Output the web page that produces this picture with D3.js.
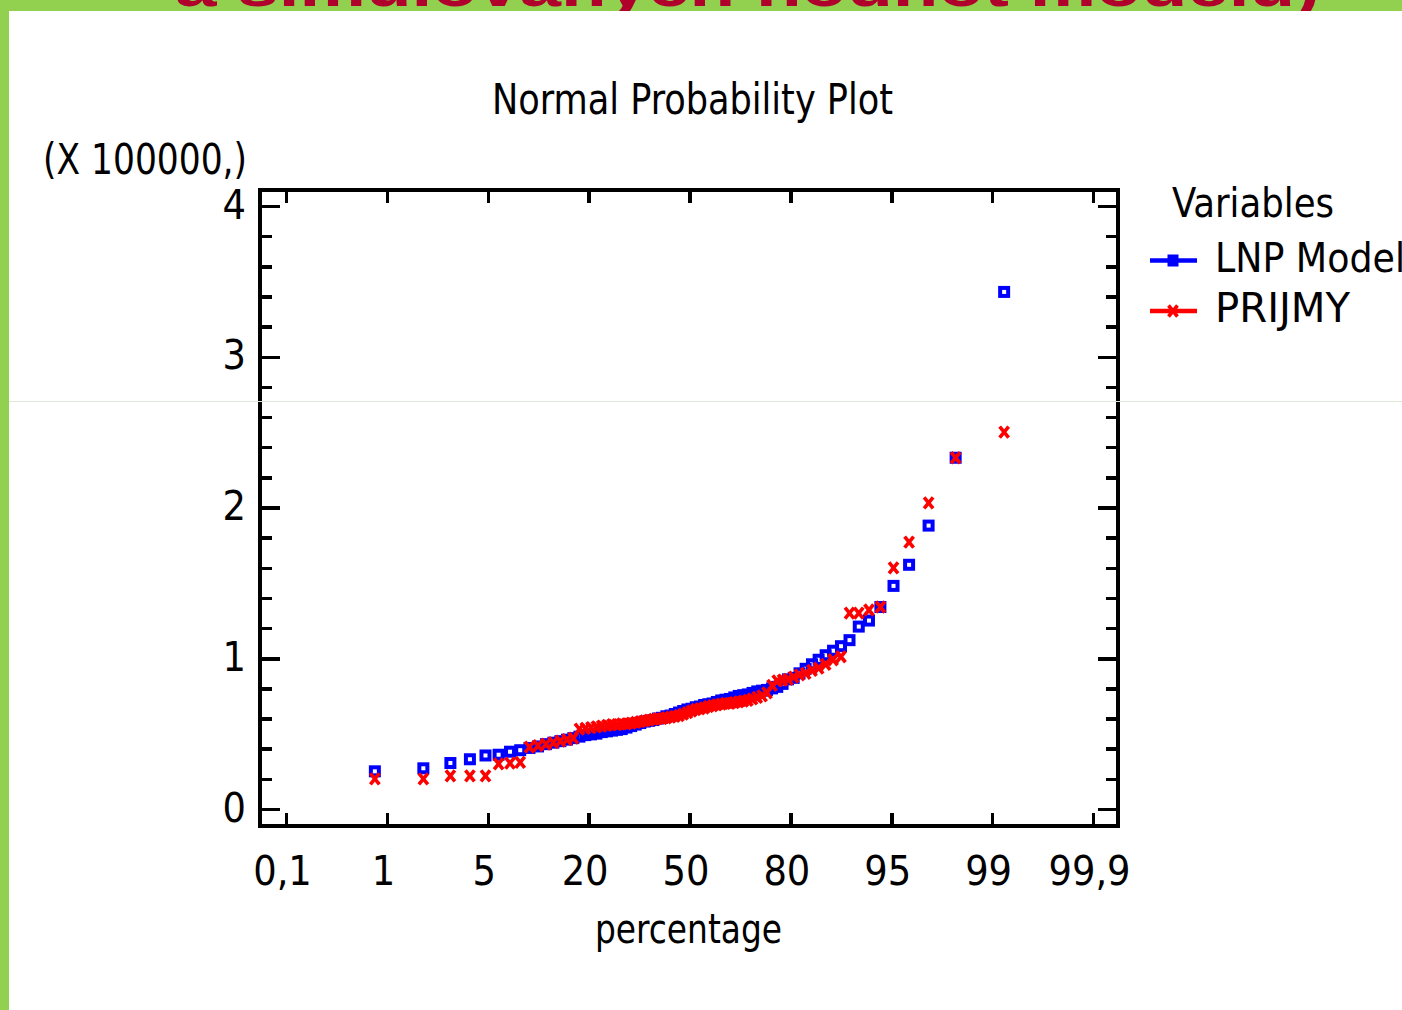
<!DOCTYPE html>
<html>
<head>
<meta charset="utf-8">
<script src="https://cdn.jsdelivr.net/npm/d3@7"></script>
<style>
  html, body { margin: 0; padding: 0; background: #ffffff; }
  svg { display: block; }
  text { font-family: "Liberation Sans Narrow", "DejaVu Sans Condensed", "Arial Narrow", sans-serif; fill: #000; }
</style>
</head>
<body>
<svg id="chart" width="1402" height="1010"></svg>
<script>
// Sorted sample values (x 100000) for each variable
const lnpModel = [
  0.25, 0.27, 0.305, 0.33, 0.355, 0.36, 0.38, 0.39, 0.405, 0.415,
  0.43, 0.44, 0.45, 0.46, 0.47, 0.48, 0.49, 0.495, 0.50, 0.51,
  0.515, 0.52, 0.525, 0.53, 0.54, 0.55, 0.56, 0.57, 0.58, 0.585,
  0.59, 0.60, 0.605, 0.615, 0.62, 0.63, 0.64, 0.65, 0.66, 0.665,
  0.675, 0.68, 0.69, 0.695, 0.70, 0.71, 0.72, 0.725, 0.73, 0.74,
  0.75, 0.755, 0.76, 0.77, 0.78, 0.785, 0.79, 0.80, 0.81, 0.83,
  0.86, 0.87, 0.90, 0.93, 0.96, 0.99, 1.02, 1.05, 1.08, 1.12,
  1.21, 1.25, 1.34, 1.48, 1.62, 1.88, 2.33, 3.43
];
const prijmy = [
  0.20, 0.20, 0.22, 0.22, 0.22, 0.30, 0.305, 0.31, 0.41, 0.42,
  0.43, 0.44, 0.45, 0.46, 0.47, 0.53, 0.535, 0.54, 0.545, 0.55,
  0.555, 0.56, 0.56, 0.565, 0.565, 0.57, 0.575, 0.58, 0.585, 0.59,
  0.595, 0.60, 0.60, 0.605, 0.61, 0.615, 0.62, 0.63, 0.64, 0.65,
  0.66, 0.665, 0.67, 0.68, 0.685, 0.69, 0.695, 0.70, 0.70, 0.705,
  0.71, 0.715, 0.72, 0.73, 0.74, 0.75, 0.77, 0.82, 0.85, 0.855,
  0.86, 0.875, 0.89, 0.90, 0.92, 0.935, 0.96, 0.99, 1.01, 1.30,
  1.30, 1.32, 1.34, 1.60, 1.77, 2.03, 2.33, 2.50
];
const seriesNames = ["LNP Model", "PRIJMY"];
const seriesColors = ["#0000ff", "#ff0000"];
const xTickLabels = ["0,1", "1", "5", "20", "50", "80", "95", "99", "99,9"];
const yTickValues = [0, 1, 2, 3, 4];

// Inverse of the standard normal CDF (Acklam's rational approximation)
function probit(p) {
  const a = [-3.969683028665376e+01, 2.209460984245205e+02, -2.759285104469687e+02, 1.383577518672690e+02, -3.066479806614716e+01, 2.506628277459239e+00];
  const b = [-5.447609879822406e+01, 1.615858368580409e+02, -1.556989798598866e+02, 6.680131188771972e+01, -1.328068155288572e+01];
  const c = [-7.784894002430293e-03, -3.223964580411365e-01, -2.400758277161838e+00, -2.549671504344080e+00, 4.374664141464968e+00, 2.938163982698783e+00];
  const d = [7.784695709041462e-03, 3.224671290700398e-01, 2.445134137142996e+00, 3.754408661907416e+00];
  const pl = 0.02425;
  if (p < pl) {
    const q = Math.sqrt(-2 * Math.log(p));
    return (((((c[0]*q+c[1])*q+c[2])*q+c[3])*q+c[4])*q+c[5]) / ((((d[0]*q+d[1])*q+d[2])*q+d[3])*q+1);
  }
  if (p > 1 - pl) {
    const q = Math.sqrt(-2 * Math.log(1 - p));
    return -(((((c[0]*q+c[1])*q+c[2])*q+c[3])*q+c[4])*q+c[5]) / ((((d[0]*q+d[1])*q+d[2])*q+d[3])*q+1);
  }
  const q = p - 0.5, r = q * q;
  return (((((a[0]*r+a[1])*r+a[2])*r+a[3])*r+a[4])*r+a[5])*q / (((((b[0]*r+b[1])*r+b[2])*r+b[3])*r+b[4])*r+1);
}

// Blom plotting positions -> normal scores
function normalScores(values) {
  const n = values.length;
  return values.map((v, i) => ({ z: probit((i + 1 - 0.375) / (n + 0.25)), v: v }));
}

const svg = d3.select("#chart");
const W = 1402, H = 1010;

// slide background
svg.append("rect").attr("x", 0).attr("y", 0).attr("width", W).attr("height", H).attr("fill", "#92d050");
svg.append("text")
  .attr("x", 175).attr("y", 6)
  .attr("textLength", 1145).attr("lengthAdjust", "spacingAndGlyphs")
  .style("font-family", "'Liberation Sans', Arial, sans-serif")
  .style("font-weight", "bold").style("font-size", "58px")
  .style("fill", "#b0002c")
  .text("a simulovaných hodnot modelu)");
svg.append("rect").attr("x", 9).attr("y", 11).attr("width", W - 9).attr("height", H - 11).attr("fill", "#ffffff");

// plot frame geometry
const frame = { left: 260, right: 1118, top: 189.5, bottom: 826 };

// x: normal score axis, y: value axis
const x = d3.scaleLinear().domain([-3.09, 3.09]).range([286, 1093]);
const xTicks = d3.scalePoint().domain(xTickLabels).range([286, 1093]);
const y = d3.scaleLinear().domain([0, 4]).range([809, 206]);

const minorY = d3.range(0, 4.01, 0.2).map(v => +v.toFixed(1)).filter(v => !yTickValues.includes(v));

const axisStyle = g => {
  g.select(".domain").remove();
  g.selectAll(".tick line").attr("stroke", "#000").attr("stroke-width", 3.5).attr("shape-rendering", "crispEdges");
};

// bottom axis
const gB = svg.append("g").attr("transform", `translate(0,${frame.bottom})`)
  .call(d3.axisBottom(xTicks).tickSize(-13)).call(axisStyle);
gB.selectAll(".tick text")
  .attr("y", 885 - frame.bottom).attr("dy", null).attr("dx", -4)
  .style("font-size", "41px")
  .attr("fill", "#000");

// top axis
svg.append("g").attr("transform", `translate(0,${frame.top})`)
  .call(d3.axisTop(xTicks).tickSize(-13).tickFormat("")).call(axisStyle);

// left axis: major + minor
const gL = svg.append("g").attr("transform", `translate(${frame.left},0)`)
  .call(d3.axisLeft(y).tickValues(yTickValues).tickSize(-20).tickFormat(d3.format("d"))).call(axisStyle);
gL.selectAll(".tick text")
  .attr("x", -14).attr("dy", 12)
  .style("font-size", "41px").attr("fill", "#000");
svg.append("g").attr("transform", `translate(${frame.left},0)`)
  .call(d3.axisLeft(y).tickValues(minorY).tickSize(-12).tickFormat("")).call(axisStyle);

// right axis: major + minor
svg.append("g").attr("transform", `translate(${frame.right},0)`)
  .call(d3.axisRight(y).tickValues(yTickValues).tickSize(-20).tickFormat("")).call(axisStyle);
svg.append("g").attr("transform", `translate(${frame.right},0)`)
  .call(d3.axisRight(y).tickValues(minorY).tickSize(-12).tickFormat("")).call(axisStyle);

// frame
svg.append("rect")
  .attr("x", frame.left).attr("y", frame.top)
  .attr("width", frame.right - frame.left).attr("height", frame.bottom - frame.top)
  .attr("fill", "none").attr("stroke", "#000").attr("stroke-width", 4)
  .attr("shape-rendering", "crispEdges");

// markers
const squareMarker = (sel, color) => sel.append("rect")
  .attr("x", -4).attr("y", -4).attr("width", 8).attr("height", 8)
  .attr("fill", "none").attr("stroke", color).attr("stroke-width", 4);
const crossMarker = (sel, color) => sel.append("path")
  .attr("d", "M-4.5,-5.5L4.5,5.5M-4.5,5.5L4.5,-5.5")
  .attr("fill", "none").attr("stroke", color).attr("stroke-width", 3.6);

const pts = svg.append("g");
pts.selectAll("g.lnp").data(normalScores(lnpModel)).join("g").attr("class", "lnp")
  .attr("transform", d => `translate(${x(d.z)},${y(d.v)})`)
  .each(function () { squareMarker(d3.select(this), seriesColors[0]); });
pts.selectAll("g.prj").data(normalScores(prijmy)).join("g").attr("class", "prj")
  .attr("transform", d => `translate(${x(d.z)},${y(d.v)})`)
  .each(function () { crossMarker(d3.select(this), seriesColors[1]); });

// titles
svg.append("text").attr("x", 492).attr("y", 114)
  .attr("textLength", 401).attr("lengthAdjust", "spacingAndGlyphs")
  .style("font-size", "43px").text("Normal Probability Plot");
svg.append("text").attr("x", 43).attr("y", 174)
  .attr("textLength", 204).attr("lengthAdjust", "spacingAndGlyphs")
  .style("font-size", "42px").text("(X 100000,)");
svg.append("text").attr("x", 595).attr("y", 943)
  .attr("textLength", 187).attr("lengthAdjust", "spacingAndGlyphs")
  .style("font-size", "41px").text("percentage");

// legend
svg.append("text").attr("x", 1172).attr("y", 217)
  .attr("textLength", 162).attr("lengthAdjust", "spacingAndGlyphs")
  .style("font-size", "41px").text("Variables");
const legendRows = [{ y: 260.5, ty: 272, len: 190 }, { y: 311, ty: 322, len: 135 }];
seriesNames.forEach((name, i) => {
  const r = legendRows[i];
  const g = svg.append("g");
  g.append("line").attr("x1", 1150).attr("x2", 1197).attr("y1", r.y).attr("y2", r.y)
    .attr("stroke", seriesColors[i]).attr("stroke-width", 4.5);
  const m = g.append("g").attr("transform", `translate(1173,${r.y})`);
  if (i === 0) {
    m.append("rect").attr("x", -5.5).attr("y", -6).attr("width", 11).attr("height", 12).attr("fill", seriesColors[i]);
  } else {
    crossMarker(m, seriesColors[i]);
  }
  g.append("text").attr("x", 1215).attr("y", r.ty)
    .attr("textLength", r.len).attr("lengthAdjust", "spacingAndGlyphs")
    .style("font-size", "41px").text(name);
});

// faint slide guide line
svg.append("line").attr("x1", 9).attr("x2", W).attr("y1", 401.5).attr("y2", 401.5)
  .attr("stroke", "#dfe8d6").attr("stroke-width", 1);
</script>
</body>
</html>
